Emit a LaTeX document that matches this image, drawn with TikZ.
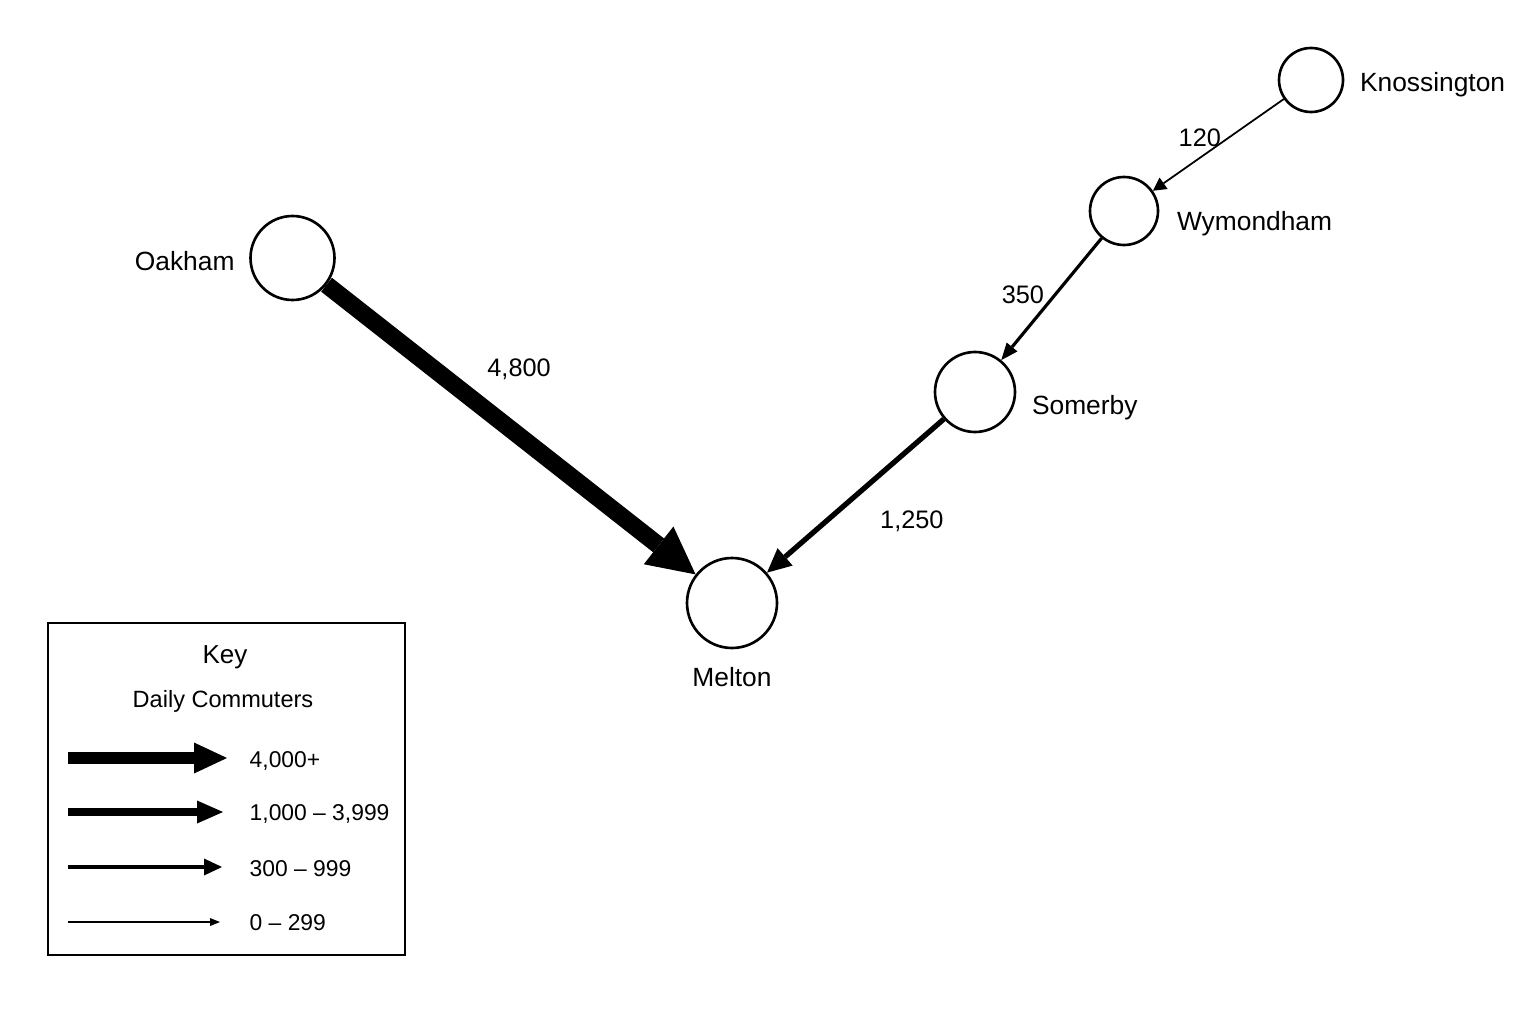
\documentclass[tikz,border=0pt]{standalone}
\usepackage{fontspec}
\setmainfont{Liberation Sans}
\usetikzlibrary{positioning}
\usetikzlibrary{arrows.meta}

\begin{document}
\begin{tikzpicture}[
    town/.style={circle, draw, line width=0.75pt, inner sep=0pt, minimum size=#1},
    place/.style={font=\fontsize{7.5}{9}\selectfont, inner sep=0pt},
    count/.style={font=\fontsize{7.2}{9}\selectfont, inner sep=0pt},
    flow/.style n args={3}{line width=#1, -{Triangle[length=#2, width=#3, line width=0pt]}},
    keytext/.style={font=\fontsize{6.5}{8}\selectfont, inner sep=0pt, anchor=west}
]
            \useasboundingbox (0,0) rectangle (15.36,10.24);

            % Towns
            \node[town=0.84cm] (oak) at (2.925,7.66) {};
            \node[town=0.90cm] (mel) at (7.32,4.21) {};
            \node[town=0.80cm] (som) at (9.75,6.32) {};
            \node[town=0.68cm] (wym) at (11.24,8.13) {};
            \node[town=0.64cm] (kno) at (13.11,9.44) {};

            % Town names
            \node[place, left=0.14cm of oak, yshift=-0.03cm] (oaklbl) {Oakham};
            \node[place, below=0.17cm of mel] (mellbl) {Melton};
            \node[place, right=0.15cm of som, yshift=-0.16cm] (somlbl) {Somerby};
            \node[place, right=0.17cm of wym, yshift=-0.13cm] (wymlbl) {Wymondham};
            \node[place, right=0.15cm of kno, yshift=-0.05cm] (knolbl) {Knossington};

            % Commuter flows
            \draw[flow={0.5pt}{0.13cm}{0.14cm}] (kno) -- (wym) node[count, midway, xshift=-0.185cm, yshift=0.07cm] {120};
            \draw[flow={0.9pt}{0.17cm}{0.14cm}] (wym) -- (som) node[count, midway, xshift=-0.285cm, yshift=0.04cm] {350};
            \draw[flow={1.5pt}{0.24cm}{0.23cm}] (som) -- (mel) node[count, midway, xshift=0.565cm, yshift=-0.25cm] {1,250};
            \draw[flow={5pt}{0.47cm}{0.48cm}] (oak) -- (mel) node[count, midway, xshift=0.08cm, yshift=0.605cm] {4,800};

            % Key
            \draw[line width=0.8pt] (0.48,0.69) rectangle (4.05,4.01);
            \node[font=\fontsize{7.4}{9}\selectfont] (keyttl) at (2.25,3.67) {Key};
            \node[font=\fontsize{6.7}{8}\selectfont] (keysub) at (2.23,3.23) {Daily Commuters};

            \coordinate (k1s) at (0.68,2.66);
            \coordinate (k1e) at (2.27,2.66);
            \coordinate (k2s) at (0.68,2.12);
            \coordinate (k2e) at (2.23,2.12);
            \coordinate (k3s) at (0.68,1.57);
            \coordinate (k3e) at (2.22,1.57);
            \coordinate (k4s) at (0.68,1.02);
            \coordinate (k4e) at (2.20,1.02);

            \draw[flow={3.4pt}{0.33cm}{0.31cm}] (k1s) -- (k1e);
            \draw[flow={2.3pt}{0.26cm}{0.23cm}] (k2s) -- (k2e);
            \draw[flow={1.2pt}{0.18cm}{0.17cm}] (k3s) -- (k3e);
            \draw[flow={0.55pt}{0.10cm}{0.08cm}] (k4s) -- (k4e);

            \node[keytext] (k1lbl) at (2.49,2.63) {4,000+};
            \node[keytext] (k2lbl) at (2.49,2.10) {1,000 – 3,999};
            \node[keytext] (k3lbl) at (2.49,1.55) {300 – 999};
            \node[keytext] (k4lbl) at (2.49,1.01) {0 – 299};

        \end{tikzpicture}
\end{document}
